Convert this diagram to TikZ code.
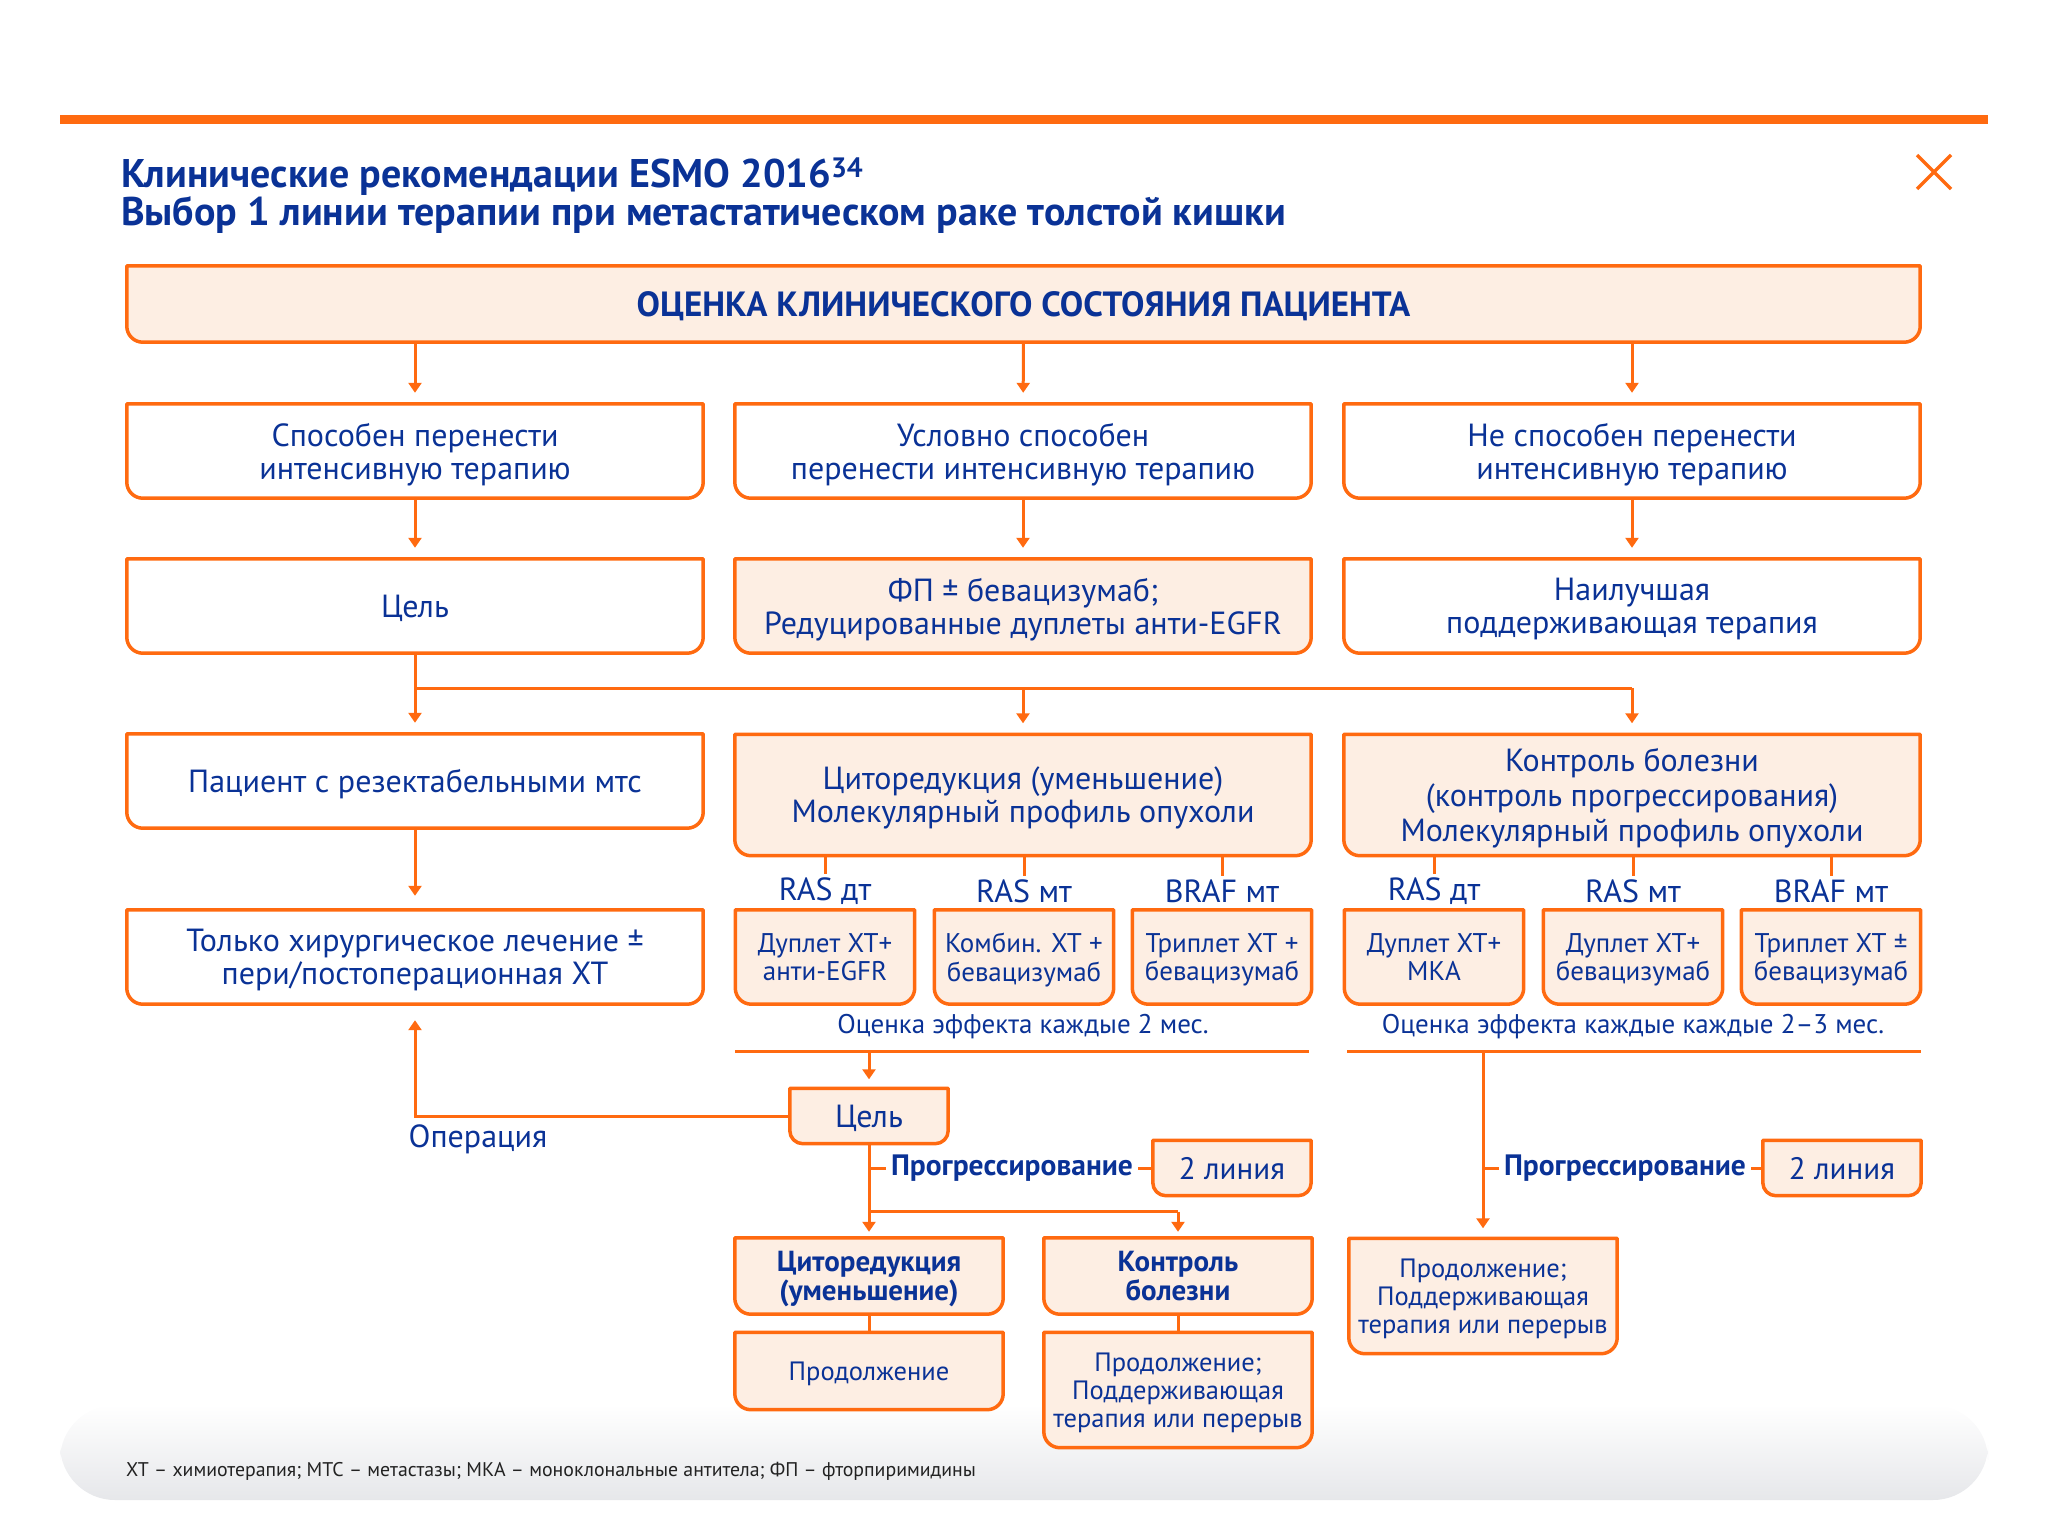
\documentclass[tikz,border=0pt]{standalone}
\usepackage{fontspec}
\setmainfont{PT Sans}
\usetikzlibrary{arrows.meta, positioning, calc, backgrounds}
\definecolor{esmoorange}{HTML}{FF6A10}
\definecolor{esmofill}{HTML}{FDEEE3}
\definecolor{esmoblue}{HTML}{0A3296}
\definecolor{notegray}{HTML}{222222}
\definecolor{bandgray}{HTML}{E6E7EA}
\tikzset{
  stepbox/.style={rectangle, text=esmoblue, align=center, inner sep=0pt,
                  text depth=0pt, font=\fontsize{32}{33}\selectfont},
  wide/.style={stepbox, minimum width=576pt, minimum height=94pt},
  small/.style={stepbox, minimum width=179pt, minimum height=94pt,
                font=\fontsize{27}{28.5}\selectfont},
  tag/.style={stepbox, minimum width=158pt, minimum height=55pt},
  low/.style={stepbox, minimum width=268pt, font=\fontsize{26.5}{28}\selectfont},
  flow/.style={-{Triangle[length=10pt, width=13pt]}, line width=3pt,
               draw=esmoorange, shorten >=11pt},
  link/.style={line width=3pt, draw=esmoorange},
  label/.style={text=esmoblue, font=\fontsize{32}{34}\selectfont},
  boldlabel/.style={text=esmoblue, inner sep=5pt, font=\bfseries\fontsize{29.5}{31}\selectfont},
}
% box outline: square top, rounded bottom corners
\def\tabr{16pt}
\newcommand{\tabbox}[2]{%
  \path[draw=esmoorange, line width=3.5pt, line join=round, fill=#2]
    (#1.north west) -- (#1.north east) -- ([yshift=\tabr]#1.south east)
    arc[start angle=0, end angle=-90, radius=\tabr]
    -- ([xshift=\tabr]#1.south west)
    arc[start angle=270, end angle=180, radius=\tabr] -- cycle;}
\begin{document}
\begin{tikzpicture}[x=1pt, y=-1pt]
\useasboundingbox (0,0) rectangle (2048,1536);

% header
\fill[esmoorange] (60,115) rectangle (1988,124);
\draw[esmoorange, line width=3.5pt] (1917,155) -- (1951,189) (1917,189) -- (1951,155);
\node[anchor=base west, text=esmoblue, font=\bfseries\fontsize{40}{42}\selectfont,
      inner sep=0pt] (title1) at (121,187) {Клинические рекомендации ESMO 2016\textsuperscript{34}};
\node[anchor=base west, text=esmoblue, font=\bfseries\fontsize{40}{42}\selectfont,
      inner sep=0pt] (title2) at (121,225) {Выбор 1 линии терапии при метастатическом раке толстой кишки};

% top
\node[stepbox, minimum width=1793pt, minimum height=76pt,
      font=\bfseries\fontsize{35}{37}\selectfont] (assess) at (1023.5,304)
  {ОЦЕНКА КЛИНИЧЕСКОГО СОСТОЯНИЯ ПАЦИЕНТА};

% row 2
\node[wide] (able) at (415,451) {Способен перенести\\интенсивную терапию};
\node[wide] (cond) at (1023,451) {Условно способен\\перенести интенсивную терапию};
\node[wide] (unable) at (1632,451) {Не способен перенести\\интенсивную терапию};

% row 3
\node[wide] (goal) at (415,606) {Цель};
\node[wide] (fpbev) at (1023,606) {ФП ± бевацизумаб;\\Редуцированные дуплеты анти-EGFR};
\node[wide] (bsc) at (1632,606) {Наилучшая\\поддерживающая терапия};

% row 4
\node[wide] (resect) at (415,781) {Пациент с резектабельными мтс};
\node[wide, minimum height=121pt] (cyto) at (1023,795)
  {Циторедукция (уменьшение)\\Молекулярный профиль опухоли};
\node[wide, minimum height=121pt, font=\fontsize{32}{35}\selectfont] (ctrl) at (1632,795)
  {Контроль болезни\\(контроль прогрессирования)\\Молекулярный профиль опухоли};
\node[wide] (surg) at (415,957) {Только хирургическое лечение ±\\пери/постоперационная ХТ};

% molecular subgroups, middle
\node[label] (m1) at (825,891) {RAS дт};
\node[label] (m2) at (1024,891) {RAS мт};
\node[label] (m3) at (1222,891) {BRAF мт};
\node[small] (mb1) at (825,957) {Дуплет ХТ+\\анти-EGFR};
\node[small] (mb2) at (1024,957) {Комбин. ХТ +\\бевацизумаб};
\node[small] (mb3) at (1222,957) {Триплет ХТ +\\бевацизумаб};

% molecular subgroups, right
\node[label] (r1) at (1434,891) {RAS дт};
\node[label] (r2) at (1633,891) {RAS мт};
\node[label] (r3) at (1831,891) {BRAF мт};
\node[small] (rb1) at (1434,957) {Дуплет ХТ+\\МКА};
\node[small] (rb2) at (1633,957) {Дуплет ХТ+\\бевацизумаб};
\node[small] (rb3) at (1831,957) {Триплет ХТ ±\\бевацизумаб};

\node[label, font=\fontsize{27}{29}\selectfont] (eval1) at (1023,1027) {Оценка эффекта каждые 2 мес.};
\node[label, font=\fontsize{27}{29}\selectfont] (eval2) at (1633,1027) {Оценка эффекта каждые каждые 2–3 мес.};
\coordinate (bar1w) at (735,1051);  \coordinate (bar1e) at (1309,1051);
\coordinate (bar2w) at (1347,1051); \coordinate (bar2e) at (1921,1051);

% second goal and progression
\node[tag] (goal2) at (869,1116) {Цель};
\node[label] (oper) at (478,1139) {Операция};
\node[boldlabel] (prog1) at (1012,1168) {Прогрессирование};
\node[tag, font=\fontsize{31}{33}\selectfont] (line2a) at (1232,1168) {2 линия};
\node[boldlabel] (prog2) at (1625,1168) {Прогрессирование};
\node[tag, font=\fontsize{31}{33}\selectfont] (line2b) at (1842,1168) {2 линия};

% bottom boxes
\node[low, minimum height=76pt, font=\bfseries\fontsize{29}{29}\selectfont]
  (cyto2) at (869,1276) {Циторедукция\\(уменьшение)};
\node[low, minimum height=77pt] (cont) at (869,1371) {Продолжение};
\node[low, minimum height=76pt, font=\bfseries\fontsize{29}{29}\selectfont]
  (ctrl2) at (1178,1276) {Контроль\\болезни};
\node[low, minimum height=115pt] (maint) at (1178,1390)
  {Продолжение;\\Поддерживающая\\терапия или перерыв};
\node[low, minimum height=115pt] (maint2) at (1483,1296)
  {Продолжение;\\Поддерживающая\\терапия или перерыв};

% footnote
\node[anchor=base west, text=notegray, font=\fontsize{19.8}{21}\selectfont, inner sep=0pt]
  (abbr) at (126,1476) {ХТ – химиотерапия; МТС – метастазы; МКА – моноклональные антитела; ФП – фторпиримидины};

% band and box outlines behind the texts
\begin{scope}[on background layer]
  \shade[top color=white, bottom color=bandgray, rounded corners=55pt]
    (60,1405) rectangle (1988,1500);
  \foreach \n in {able,cond,unable,goal,bsc,resect,surg}{\tabbox{\n}{white}}
  \foreach \n in {assess,fpbev,cyto,ctrl,mb1,mb2,mb3,rb1,rb2,rb3,
                  cyto2,cont,ctrl2,maint,maint2}{\tabbox{\n}{esmofill}}
  \def\tabr{13pt}
  \foreach \n in {goal2,line2a,line2b}{\tabbox{\n}{esmofill}}
\end{scope}

% connectors
\draw[flow] (assess.south -| able) -- (able);
\draw[flow] (assess) -- (cond);
\draw[flow] (assess.south -| unable) -- (unable);
\draw[flow] (able) -- (goal);
\draw[flow] (cond) -- (fpbev);
\draw[flow] (unable) -- (bsc);
\coordinate (split) at ($(goal.south)+(0,35)$);
\draw[link] (goal) -- (split) -- (split -| bsc);
\draw[flow] (split) -- (resect);
\draw[flow] (split -| cyto) -- (cyto);
\draw[flow] (split -| ctrl) -- (ctrl);
\draw[flow, shorten >=14pt] (resect) -- (surg);
\foreach \b in {m1,m2,m3}{\draw[link] (cyto.south -| \b) -- (\b.north);}
\foreach \b in {r1,r2,r3}{\draw[link] (ctrl.south -| \b) -- (\b.north);}
\draw[link] (bar1w) -- (bar1e);
\draw[link] (bar2w) -- (bar2e);
\draw[flow, shorten >=9pt] (bar1w -| goal2) -- (goal2);
\coordinate (opcorner) at (goal2.west -| surg);
\draw[flow, shorten >=16pt] (goal2.west) -- (opcorner) -- (surg.south);
\coordinate (fork1) at ($(goal2.south)+(0,68)$);
\draw[link] (goal2) -- (fork1) -- (fork1 -| ctrl2);
\draw[flow, shorten >=6pt] (fork1) -- (cyto2);
\draw[flow, shorten >=6pt] (fork1 -| ctrl2) -- (ctrl2);
\draw[link] (prog1 -| goal2) -- (prog1.west);
\draw[link] (prog1.east) -- (line2a.west);
\draw[link] (cyto2) -- (cont);
\draw[link] (ctrl2) -- (maint);
\draw[flow, shorten >=10pt] (bar2w -| maint2) -- (maint2);
\draw[link] (prog2 -| maint2) -- (prog2.west);
\draw[link] (prog2.east) -- (line2b.west);

\end{tikzpicture}
\end{document}
